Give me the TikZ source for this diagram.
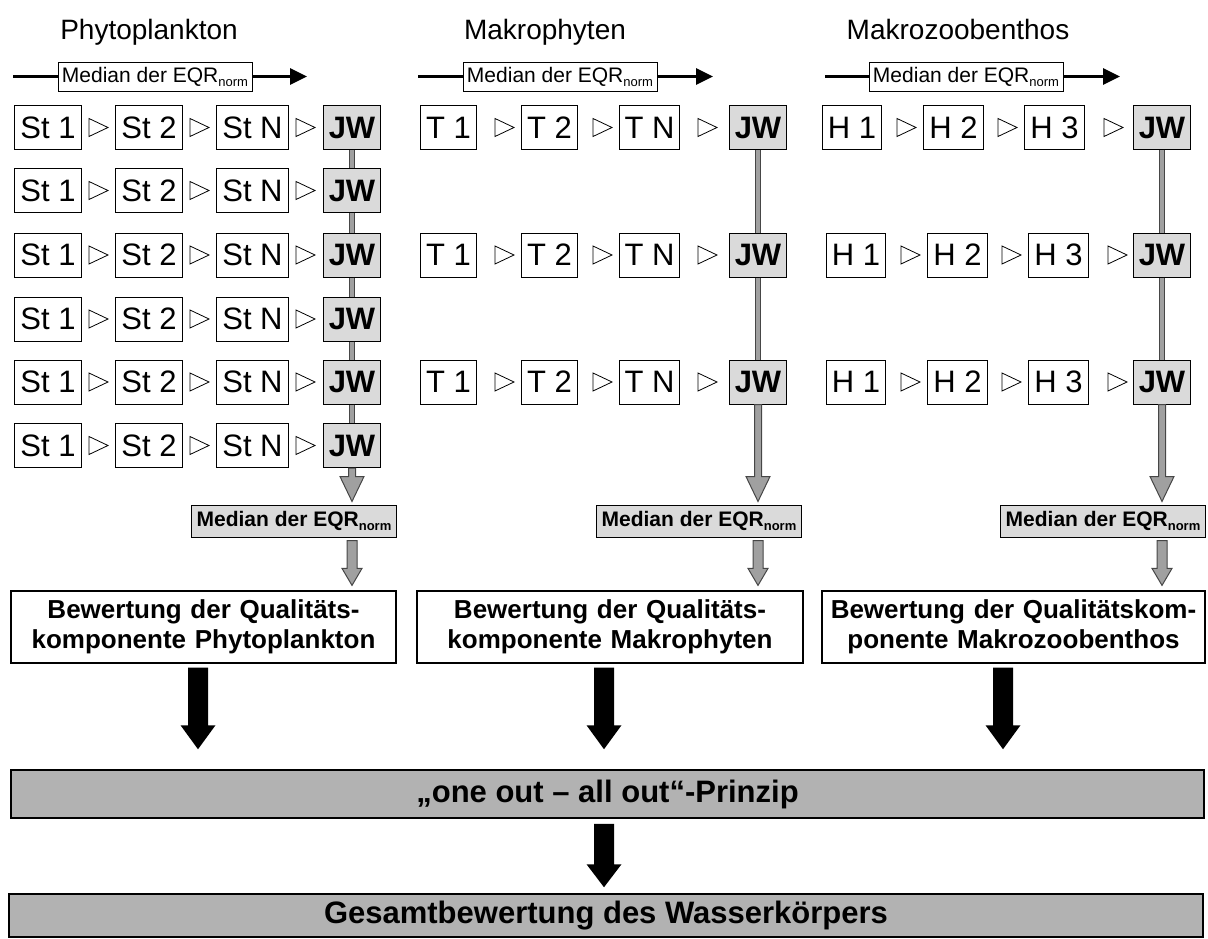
\documentclass[tikz,border=0pt]{standalone}
\usepackage{fontspec}
\setmainfont{Liberation Sans}
\usetikzlibrary{calc,arrows.meta}
\definecolor{lightfill}{RGB}{218,218,218}
\definecolor{barfill}{RGB}{160,160,160}
\definecolor{edgefill}{RGB}{70,70,70}
\definecolor{bandfill}{RGB}{178,178,178}
\newcommand{\subn}[1]{\raisebox{-4pt}{\fontsize{13}{14}\selectfont #1}}
\newcommand{\blockarrow}[6]{%
  \draw[#1] ($(#2)+(-#4,0)$) -- ($(#3)+(-#4,-#6)$) -- ($(#3)+(-#5,-#6)$) -- (#3)
    -- ($(#3)+(#5,-#6)$) -- ($(#3)+(#4,-#6)$) -- ($(#2)+(#4,0)$) -- cycle;}
\tikzset{
  titletext/.style={font=\fontsize{28}{32}\selectfont, anchor=base, inner sep=0pt},
  hdrbox/.style={draw, line width=0.8pt, fill=white, font=\fontsize{21}{24}\selectfont, inner xsep=4pt, inner ysep=0pt, minimum height=29pt},
  hdrline/.style={line width=3pt},
  stbox/.style={draw, line width=1pt, fill=white, font=\fontsize{31}{34}\selectfont, inner xsep=5.5pt, inner ysep=0pt, minimum height=44pt},
  jwbox/.style={stbox, fill=lightfill, font=\fontsize{31}{34}\selectfont\bfseries},
  medbox/.style={draw, line width=1pt, fill=lightfill, font=\fontsize{21}{24}\selectfont\bfseries, inner xsep=5pt, inner ysep=0pt, minimum height=32pt},
  bewbox/.style={draw, line width=1.2pt, fill=white, font=\fontsize{26}{30}\selectfont\bfseries, align=center, inner xsep=5pt, inner ysep=0pt, minimum height=72pt},
  band/.style={draw, line width=1.5pt, fill=bandfill, font=\fontsize{31}{34}\selectfont\bfseries, inner sep=0pt},
  jwbar/.style={line width=1pt, draw=edgefill, double=barfill, double distance=4.5pt},
  grayarrow/.style={line width=1pt, draw=edgefill, fill=barfill},
  blackarrow/.style={fill=black, draw=none},
  trimark/.pic={\draw[line width=0.8pt] (0,-9) -- (19,0) -- (0,9) -- cycle;}
}
\begin{document}
\begin{tikzpicture}[x=1pt,y=-1pt]
\useasboundingbox (0,0) rectangle (1208,939);

% titles
\node[titletext] (tP) at (149,40) {Phytoplankton};
\node[titletext] (tM) at (545,40) {Makrophyten};
\node[titletext] (tZ) at (958,40) {Makrozoobenthos};

% header arrows
\foreach \n/\xa/\xb/\xe in {1/13/155/307, 2/418/560/713, 3/825/966/1120}{
  \coordinate (hs\n) at (\xa,76.5);
  \coordinate (he\n) at (\xe,76.5);
  \node[hdrbox] (hb\n) at (\xb,76.5) {Median der EQR\subn{norm}};
  \draw[hdrline] (hs\n) -- (hb\n);
  \draw[hdrline,-{Triangle[length=17pt,width=16pt]}] (hb\n) -- (he\n);
}

% left column: Phytoplankton
\foreach \y [count=\i] in {127.5,190.5,255,319,382,445.5}{
  \node[stbox] (SA\i) at (48,\y) {St 1};
  \node[stbox] (SB\i) at (149,\y) {St 2};
  \node[stbox] (SC\i) at (252.5,\y) {St N};
  \node[jwbox] (JL\i) at (352,\y) {JW};
  \pic at (89,\y) {trimark};
  \pic at (190,\y) {trimark};
  \pic at (296,\y) {trimark};
}
\foreach \i [evaluate=\i as \j using int(\i+1)] in {1,...,5}{
  \draw[jwbar] (JL\i.south) -- (JL\j.north);
}

% middle column: Makrophyten
\foreach \y [count=\i] in {127.5,255,382}{
  \node[stbox] (TA\i) at (448.5,\y) {T 1};
  \node[stbox] (TB\i) at (549.5,\y) {T 2};
  \node[stbox] (TC\i) at (649.5,\y) {T N};
  \node[jwbox] (JM\i) at (758,\y) {JW};
  \pic at (495,\y) {trimark};
  \pic at (593,\y) {trimark};
  \pic at (698,\y) {trimark};
}
\draw[jwbar] (JM1.south) -- (JM2.north);
\draw[jwbar] (JM2.south) -- (JM3.north);

% right column: Makrozoobenthos
\foreach \y/\dx [count=\i] in {127.5/0,255/4,382/4}{
  \node[stbox] (HA\i) at (852+\dx,\y) {H 1};
  \node[stbox] (HB\i) at (953.5+\dx,\y) {H 2};
  \node[stbox] (HC\i) at (1054.5+\dx,\y) {H 3};
  \node[jwbox] (JR\i) at (1162,\y) {JW};
  \pic at (897+\dx,\y) {trimark};
  \pic at (998+\dx,\y) {trimark};
  \pic at (1104+\dx,\y) {trimark};
}
\draw[jwbar] (JR1.south) -- (JR2.north);
\draw[jwbar] (JR2.south) -- (JR3.north);

% median boxes
\node[medbox] (ML) at (294,521) {Median der EQR\subn{norm}};
\node[medbox] (MM) at (699,521) {Median der EQR\subn{norm}};
\node[medbox] (MR) at (1103,521) {Median der EQR\subn{norm}};

% Bewertung boxes
\node[bewbox, text width=375pt] (BL) at (203.5,627) {Bewertung der Qualitäts-\\komponente Phytoplankton};
\node[bewbox, text width=376pt] (BM) at (610,627) {Bewertung der Qualitäts-\\komponente Makrophyten};
\node[bewbox, text width=373pt] (BR) at (1013.5,627) {Bewertung der Qualitätskom-\\ponente Makrozoobenthos};

% bands
\node[band, minimum width=1193pt, minimum height=48pt] (OO) at (607.5,794) {„one out – all out“-Prinzip};
\node[band, minimum width=1194pt, minimum height=43pt] (GB) at (606,915.5) {Gesamtbewertung des Wasserkörpers};

% gray arrows JW -> median
\foreach \c/\m/\b in {JL6/ML/BL, JM3/MM/BM, JR3/MR/BR}{
  \path (\c.south |- \m.north) coordinate (t\c);
  \coordinate (ta\c) at ($(t\c)+(0,-3)$);
  \blockarrow{grayarrow}{\c.south}{ta\c}{3.5}{12}{25}
  \path (\c.south |- \m.south) coordinate (u\c);
  \coordinate (ua\c) at ($(u\c)+(0,3)$);
  \path (\c.south |- \b.north) coordinate (v\c);
  \coordinate (va\c) at ($(v\c)+(0,-5)$);
  \blockarrow{grayarrow}{ua\c}{va\c}{5}{10}{17}
}

% black arrows
\foreach \b/\dx in {BL/-5.5, BM/-6, BR/-10.5}{
  \coordinate (ks\b) at ($(\b.south)+(\dx,4)$);
  \path (ks\b |- OO.north) coordinate (kt\b);
  \coordinate (ke\b) at ($(kt\b)+(0,-20)$);
  \blockarrow{blackarrow}{ks\b}{ke\b}{10}{17.5}{24}
}
\coordinate (kso) at ($(OO.south)+(-3.5,5)$);
\path (kso |- GB.north) coordinate (kto);
\coordinate (keo) at ($(kto)+(0,-6)$);
\blockarrow{blackarrow}{kso}{keo}{10}{17.5}{23}
\end{tikzpicture}
\end{document}
